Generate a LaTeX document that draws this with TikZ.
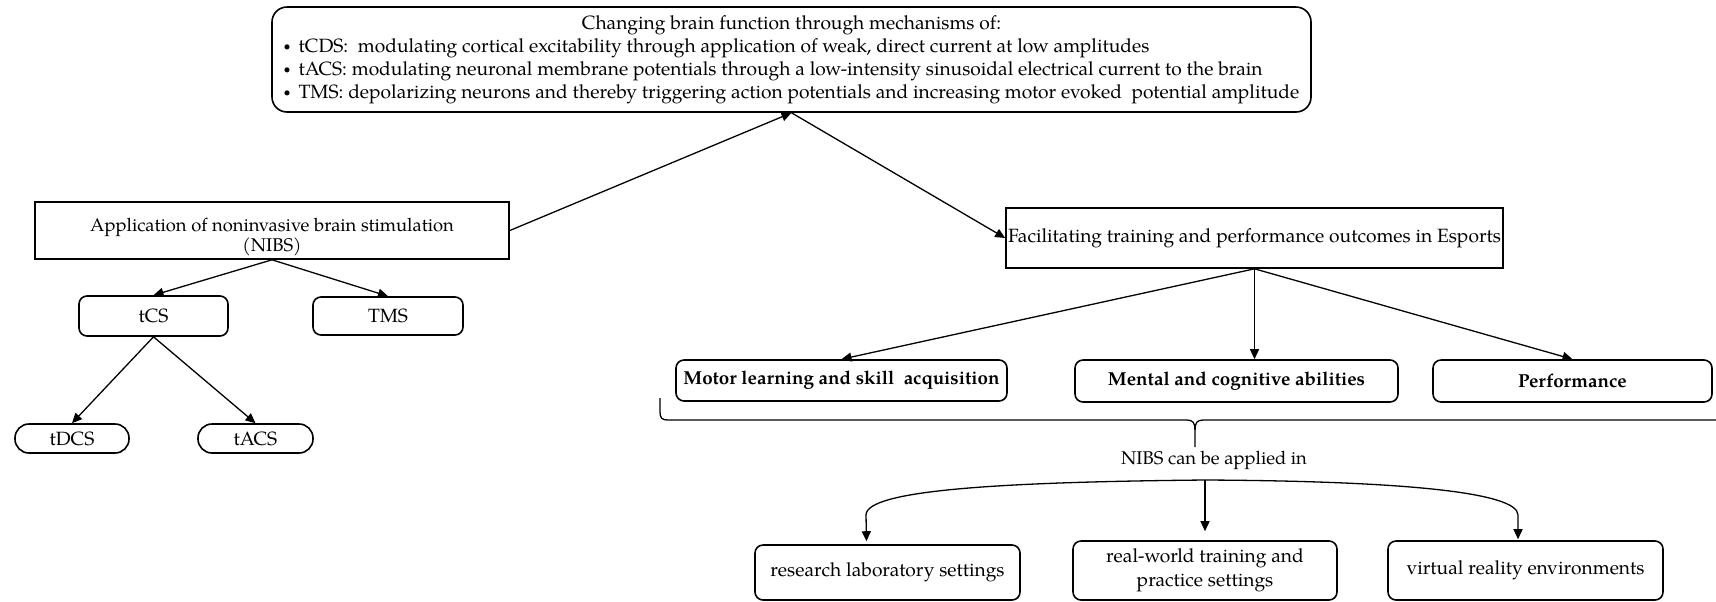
\documentclass[tikz,border=0pt]{standalone}
\usepackage{fontspec}
\setmainfont{TeX Gyre Pagella}
\usetikzlibrary{arrows.meta,calc}
\newcommand{\smbul}{\raisebox{0.12em}{\scalebox{0.65}{•}}}
\begin{document}
\begin{tikzpicture}[x=0.5pt,y=-0.5pt,
  every node/.style={font=\fontsize{9.6}{11.5}\selectfont, inner sep=0pt, align=center},
  sqbox/.style={draw, line width=0.8pt},
  rbox/.style={draw, line width=0.8pt, rounded corners=4pt},
  pillbox/.style={draw, line width=0.8pt, rounded corners=7pt},
  boldtxt/.style={font=\fontsize{9.4}{11.5}\selectfont\bfseries},
  smalltxt/.style={font=\fontsize{9.2}{11.5}\selectfont},
  tighttxt/.style={font=\fontsize{9.2}{8.6}\selectfont},
  arr/.style={line width=0.65pt, -{Triangle[length=5pt,width=4.5pt]}},
  ln/.style={line width=0.65pt}]
\useasboundingbox (0,0) rectangle (1716,601);

% top box
\node[rbox, rounded corners=7.5pt, minimum width=519.5pt, minimum height=52.5pt] (top) at (791.5,59.5)
 {\begin{tabular}{@{}l@{}}\multicolumn{1}{@{}c@{}}{Changing brain function through mechanisms of:}\\
 \smbul\ \,tCDS:\ \ modulating cortical excitability through application of weak, direct current at low amplitudes\\
 \smbul\ \,tACS: modulating neuronal membrane potentials through a low-intensity sinusoidal electrical current to the brain\\
 \smbul\ \,TMS: depolarizing neurons and thereby triggering action potentials and increasing motor evoked\ \ potential amplitude
 \end{tabular}};

% left part
\node[sqbox, minimum width=237pt, minimum height=28.5pt] (nibs) at (272,230.5) {};
\node[tighttxt] (nibstext) at (272,237) {Application of noninvasive brain stimulation\\(NIBS)};
\node[rbox, minimum width=74.5pt, minimum height=20pt] (tcs) at (153.5,316) {tCS};
\node[rbox, minimum width=75pt, minimum height=19pt] (tms) at (388,316) {TMS};
\node[pillbox, minimum width=57pt, minimum height=14.5pt] (tdcs) at (72,438.5) {tDCS};
\node[pillbox, minimum width=57.5pt, minimum height=14.5pt] (tacs) at (255.5,438.5) {tACS};

% right part
\node[sqbox, minimum width=248.5pt, minimum height=30pt] (fac) at (1254.5,238) {Facilitating training and performance outcomes in Esports};
\node[rbox, boldtxt, minimum width=165.5pt, minimum height=20.5pt] (motor) at (841.5,380.5) {Motor learning and skill\ \ acquisition};
\node[rbox, boldtxt, minimum width=161.5pt, minimum height=21pt] (mental) at (1236.5,381) {Mental and cognitive abilities};
\node[rbox, boldtxt, minimum width=139.5pt, minimum height=21pt] (perf) at (1572.5,381) {Performance};

\node[smalltxt] (applied) at (1214,460) {NIBS can be applied in};

\node[rbox, minimum width=132.5pt, minimum height=27.5pt] (res) at (887.5,572.5) {research laboratory settings};
\node[rbox, minimum width=132pt, minimum height=29.5pt] (rw) at (1205,570.5) {real-world training and\\[0.5pt]practice settings};
\node[rbox, minimum width=137.5pt, minimum height=29.5pt] (vr) at (1525.5,570.5) {virtual reality environments};

% connectors
\draw[arr] (nibs.east) -- (top.south);
\draw[arr] (top.south) -- (fac.west);
\draw[arr] (nibs.south) -- (tcs.north);
\draw[arr] (nibs.south) -- (tms.north);
\draw[arr] (tcs.south) -- (tdcs.north);
\draw[arr] (tcs.south) -- (tacs.north);
\draw[arr] (fac.south) -- (motor.north);
\draw[arr] (fac.south) -- (fac.south |- mental.north);
\draw[arr] (fac.south) -- (perf.north);

% brace
\draw[ln] (660,398) -- (660,412) .. controls (660,418) and (662,420) .. (668,420) -- (1187,420)
  .. controls (1193,420) and (1195,423) .. (1195,430) -- (1195,447);
\draw[ln] (1195,430) .. controls (1195,423) and (1197,420) .. (1203,420) -- (1716,420);

% distribution curve
\coordinate (peak) at (1205,480);
\draw[arr] (peak) .. controls (1000,482) and (866,490) .. (866,515) -- ($(res.north)+(-21,-3)$);
\draw[arr] (peak) -- ($(rw.north)+(0,-9)$);
\draw[arr] (peak) .. controls (1400,481) and (1518,492) .. (1518,515) -- ($(vr.north)+(-7.5,-1)$);
\end{tikzpicture}
\end{document}
